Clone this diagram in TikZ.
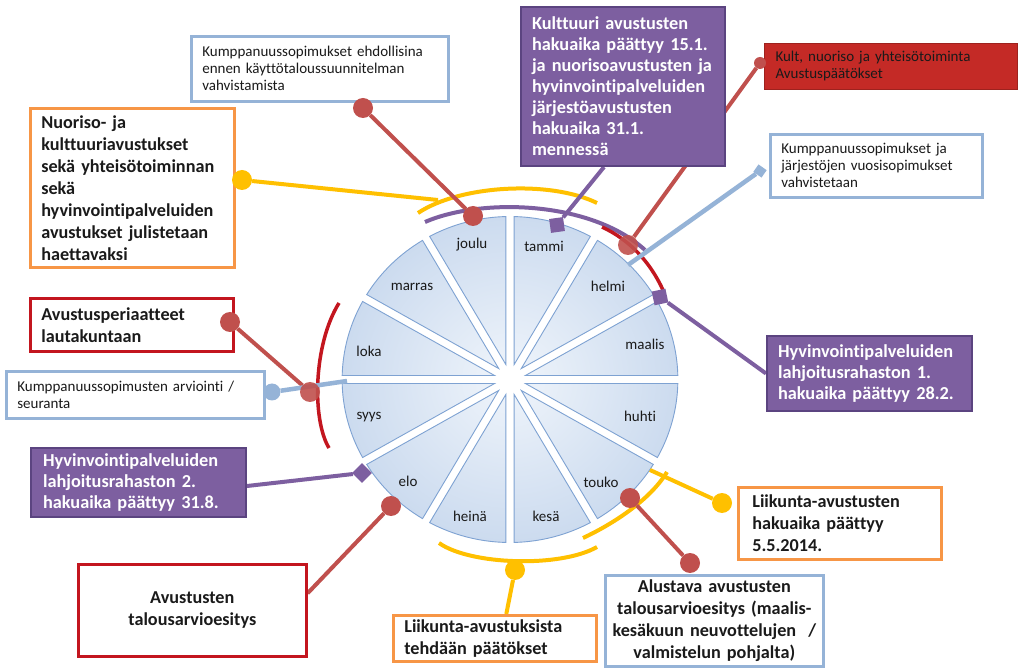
\documentclass[tikz,border=0pt]{standalone}
\usepackage{fontspec}
\setmainfont{Carlito}[Ligatures=NoCommon]
\usetikzlibrary{calc}
\pgfdeclarelayer{bg}
\pgfdeclarelayer{lines}
\pgfsetlayers{bg,lines,main}
\definecolor{wedgein}{HTML}{F0F5FB}
\definecolor{wedgeout}{HTML}{C9D9EE}
\definecolor{wedgeline}{HTML}{7EA2D2}
\definecolor{purp}{HTML}{7D5FA0}
\definecolor{purpdark}{HTML}{5B4480}
\definecolor{redl}{HTML}{C0504D}
\definecolor{redbox}{HTML}{C3161F}
\definecolor{redfill}{HTML}{C42A26}
\definecolor{orangeb}{HTML}{F79646}
\definecolor{yell}{HTML}{FFC000}
\definecolor{lblue}{HTML}{95B3D7}
\definecolor{txt}{HTML}{1A1A1A}
\begin{document}
\begin{tikzpicture}[x=1pt,y=-1pt,
  box/.style={draw, line width=2.6pt, fill=white, inner xsep=11pt, inner ysep=2pt, align=left, anchor=north west, text=txt},
  sm/.style={font=\fontsize{15}{17}\selectfont},
  bd/.style={font=\fontsize{18.2}{22}\selectfont\bfseries},
  pd/.style={font=\fontsize{18.3}{21}\selectfont\bfseries},
  pbox/.style={box, fill=purp, draw=purpdark, line width=2pt, text=white, pd},
  wedgeborder/.style={draw=wedgeline, line width=0.9pt},
  month/.style={font=\fontsize{15}{17}\selectfont, text=txt},
  rline/.style={draw=redl, line width=4pt},
  yline/.style={draw=yell, line width=4pt},
  pline/.style={draw=purp, line width=4pt},
  bline/.style={draw=lblue, line width=4.5pt},
  rdot/.style={circle, fill=redl, minimum size=20pt, inner sep=0pt},
  ydot/.style={circle, fill=yell, minimum size=20pt, inner sep=0pt},
  bdot/.style={circle, fill=lblue, minimum size=17pt, inner sep=0pt},
  psq/.style={rectangle, fill=purp, minimum size=14pt, inner sep=0pt}
]
\useasboundingbox (0,0) rectangle (1021,668);

\begin{pgfonlayer}{bg}
\fill[white] (0,0) rectangle (1021,668);
% wheel
\begin{scope}[shift={(510,379.5)}, yscale=-1, xscale=1.03]
\foreach \a in {0,30,...,330} {
  \pgfmathsetmacro\b{\a+28.6}
  \pgfmathsetmacro\s{\a+1.4}
  \pgfmathsetmacro\m{\a+15}
  \begin{scope}
    \clip (\m:15.5) -- (\s:163) arc[start angle=\s, end angle=\b, radius=163] -- cycle;
    \shade[inner color=wedgein, outer color=wedgeout] (0,0) circle[radius=175];
  \end{scope}
  \path[wedgeborder] (\m:15.5) -- (\s:163) arc[start angle=\s, end angle=\b, radius=163] -- cycle;
}
\end{scope}
% arcs
\draw[yline] (418,213) .. controls (460,185) and (550,180) .. (597,203);
\draw[pline] (425,222) .. controls (480,198) and (590,200) .. (645,250);
\draw[draw=redbox, line width=3.5pt] (602,227) .. controls (630,240) and (650,262) .. (663,290);
\draw[draw=redbox, line width=3.5pt] (339,303) .. controls (313,345) and (312,420) .. (329,448);
\draw[yline] (439,543) .. controls (470,565) and (560,568) .. (597,547);
\draw[yline] (583,538) .. controls (613,524) and (650,500) .. (667,472);
\end{pgfonlayer}

% month labels
\node[month] (joulu) at (472,245) {joulu};
\node[month] (tammi) at (544,246) {tammi};
\node[month] (marras) at (412,287) {marras};
\node[month] (helmi) at (608,286) {helmi};
\node[month] (loka) at (369,351) {loka};
\node[month] (maalis) at (645,344) {maalis};
\node[month] (syys) at (369,417) {syys};
\node[month] (huhti) at (640,416) {huhti};
\node[month] (elo) at (408,481) {elo};
\node[month] (touko) at (601,482) {touko};
\node[month] (heina) at (470,516) {heinä};
\node[month] (kesa) at (546,516) {kesä};

% boxes
\node[box, draw=lblue, sm, minimum width=257pt, minimum height=65pt, text width=235pt] (b1) at (190,35)
  {Kumppanuussopimukset ehdollisina\\ennen käyttötaloussuunnitelman\\vahvistamista};
\node[box, draw=orangeb, bd, minimum width=204pt, minimum height=159pt, text width=182pt] (b2) at (29,107)
  {Nuoriso- ja\\kulttuuriavustukset\\sekä yhteisötoiminnan\\sekä\\hyvinvointipalveluiden\\avustukset julistetaan\\haettavaksi};
\node[pbox, minimum width=204pt, minimum height=159pt, text width=182pt] (b3) at (520,6)
  {Kulttuuri avustusten\\hakuaika päättyy 15.1.\\ja nuorisoavustusten ja\\hyvinvointipalveluiden\\järjestöavustusten\\hakuaika 31.1.\\mennessä};
\node[box, fill=redfill, draw=redfill!80!black, line width=1pt, sm, minimum width=253pt, minimum height=46pt, text width=231pt] (b4) at (764,43)
  {Kult, nuoriso ja yhteisötoiminta\\Avustuspäätökset};
\node[box, draw=lblue, sm, minimum width=212pt, minimum height=63pt, text width=190pt] (b5) at (769,133)
  {Kumppanuussopimukset ja\\järjestöjen vuosisopimukset\\vahvistetaan};
\node[box, draw=redbox, bd, minimum width=203pt, minimum height=53pt, text width=181pt] (b6) at (29,297)
  {Avustusperiaatteet\\lautakuntaan};
\node[box, draw=lblue, sm, minimum width=258pt, minimum height=47pt, text width=236pt] (b7) at (5,370)
  {Kumppanuussopimusten arviointi /\\seuranta};
\node[pbox, minimum width=205pt, minimum height=75pt, text width=183pt] (b8) at (766,335)
  {Hyvinvointipalveluiden\\lahjoitusrahaston 1.\\hakuaika päättyy 28.2.};
\node[pbox, minimum width=215pt, minimum height=69pt, text width=191pt, inner xsep=12pt] (b9) at (30,447)
  {Hyvinvointipalveluiden\\lahjoitusrahaston 2.\\hakuaika päättyy 31.8.};
\node[box, draw=redbox, bd, align=center, minimum width=228pt, minimum height=92pt, text width=206pt] (b10) at (77,563)
  {Avustusten\\talousarvioesitys};
\node[box, draw=orangeb, bd, minimum width=203pt, minimum height=72pt, text width=175pt, inner xsep=14pt] (b11) at (737,486)
  {Liikunta-avustusten\\hakuaika päättyy\\5.5.2014.};
\node[box, draw=orangeb, bd, minimum width=203pt, minimum height=46pt, text width=181pt] (b12) at (392,614)
  {Liikunta-avustuksista\\tehdään päätökset};
\node[box, draw=lblue, bd, align=center, minimum width=218pt, minimum height=91pt, text width=206pt, inner xsep=6pt] (b13) at (604,574)
  {Alustava avustusten\\talousarvioesitys (maalis-\\kesäkuun neuvottelujen~~/\\valmistelun pohjalta)};

% markers and dots
\node[rdot] (d1a) at (363,108) {};
\node[rdot] (d1b) at (473,216) {};
\node[ydot] (y2) at (242,180) {};
\coordinate (y2e) at (438,200);
\node[psq, rotate=8] (p1) at (557,225) {};
\node[rdot, opacity=0.9] (r4) at (628,245) {};
\node[circle, fill=redl, minimum size=12pt, inner sep=0pt] (r4s) at (760,63) {};
\coordinate (lb5) at (628,265);
\node[rectangle, fill=lblue, minimum width=10pt, minimum height=9pt, inner sep=0pt, rotate=-35] (lb5s) at (760,171) {};
\node[psq, rotate=12] (p2) at (660,297) {};
\node[rdot] (r7a) at (230,322) {};
\node[rdot, opacity=0.9] (r7b) at (310,392) {};
\node[bdot] (lb8) at (272,392) {};
\coordinate (lb8e) at (347,381);
\node[psq, rotate=45] (p9) at (362,473) {};
\node[rdot] (r10) at (391,506) {};
\node[rdot] (r11a) at (630,498) {};
\node[rdot] (r11b) at (690,563) {};
\coordinate (y12s) at (650,470);
\node[ydot] (y12) at (722,503) {};
\node[ydot] (y13) at (515,570) {};

% connectors
\begin{pgfonlayer}{lines}
\draw[rline] (d1a) -- (d1b);
\draw[yline] (y2) -- (y2e);
\draw[pline] (p1) -- ([xshift=-19pt]b3.south);
\draw[rline] (r4) -- (r4s);
\draw[bline] (lb5) -- (lb5s);
\draw[pline] (p2) -- (b8.west);
\draw[rline] (r7a) -- (r7b);
\draw[bline] (lb8) -- (lb8e);
\draw[pline] (p9) -- ([yshift=-3.5pt]b9.east);
\draw[rline] (r10) -- ([yshift=17pt]b10.east);
\draw[rline] (r11a) -- (r11b);
\draw[yline] (y12s) -- (y12);
\draw[yline] (y13) -- ([xshift=11.5pt]b12.north);
\end{pgfonlayer}
\end{tikzpicture}
\end{document}
